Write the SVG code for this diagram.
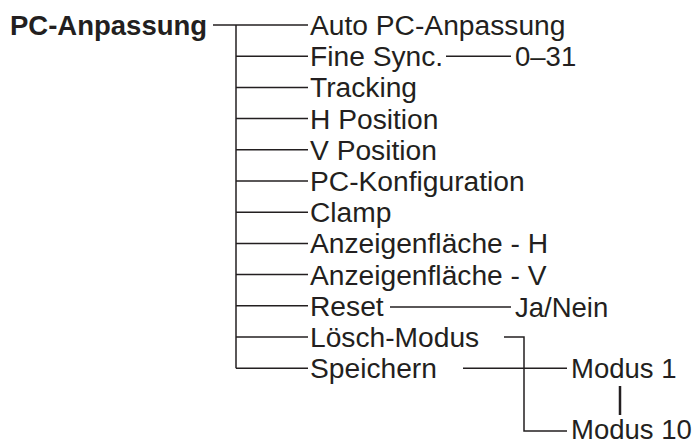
<svg xmlns="http://www.w3.org/2000/svg" width="696" height="445" viewBox="0 0 696 445">
<style>
text{font-family:"Liberation Sans",Arial,sans-serif;font-size:27.5px;fill:#231f20}
.b{font-weight:bold}
.i{font-size:28.2px}
.c line,.c path{stroke:#231f20;stroke-width:1.5;fill:none}
</style>
<rect width="696" height="445" fill="#fff"/>
<g class="c" id="connectors">
<line x1="213" y1="25" x2="308" y2="25"/>
<line x1="236" y1="25" x2="236" y2="368.3"/>
<line x1="236" y1="56.2" x2="308" y2="56.2"/>
<line x1="236" y1="87.4" x2="308" y2="87.4"/>
<line x1="236" y1="118.6" x2="308" y2="118.6"/>
<line x1="236" y1="149.8" x2="308" y2="149.8"/>
<line x1="236" y1="181" x2="308" y2="181"/>
<line x1="236" y1="212.2" x2="308" y2="212.2"/>
<line x1="236" y1="243.4" x2="308" y2="243.4"/>
<line x1="236" y1="274.6" x2="308" y2="274.6"/>
<line x1="236" y1="305.8" x2="308" y2="305.8"/>
<line x1="236" y1="337" x2="308" y2="337"/>
<line x1="236" y1="368.2" x2="308" y2="368.2"/>
<line x1="446" y1="56.2" x2="511" y2="56.2"/>
<line x1="390" y1="307" x2="511" y2="307"/>
<path d="M504 337 H524 V431 H567"/>
<line x1="463" y1="368.2" x2="567" y2="368.2"/>
<line x1="620" y1="386" x2="620" y2="415" style="stroke-width:2.5"/>
</g>
<g id="root"><text class="b" x="10" y="35">PC-Anpassung</text></g>
<g id="items" class="i">
<text class="i" x="310" y="35">Auto PC-Anpassung</text>
<text class="i" x="310" y="66.2">Fine Sync.</text>
<text class="i" x="310" y="97.4">Tracking</text>
<text class="i" x="310" y="128.6">H Position</text>
<text class="i" x="310" y="159.8">V Position</text>
<text class="i" x="310" y="191">PC-Konfiguration</text>
<text class="i" x="310" y="222.2">Clamp</text>
<text class="i" x="310" y="253.4">Anzeigenfläche - H</text>
<text class="i" x="310" y="284.6">Anzeigenfläche - V</text>
<text class="i" x="310" y="315.8">Reset</text>
<text class="i" x="310" y="347">Lösch-Modus</text>
<text class="i" x="310" y="378.2">Speichern</text>
</g>
<g id="values">
<text x="515" y="66.2">0–31</text>
<text x="515" y="317">Ja/Nein</text>
<text x="571" y="378.2">Modus 1</text>
<text x="571" y="439">Modus 10</text>
</g>
</svg>
